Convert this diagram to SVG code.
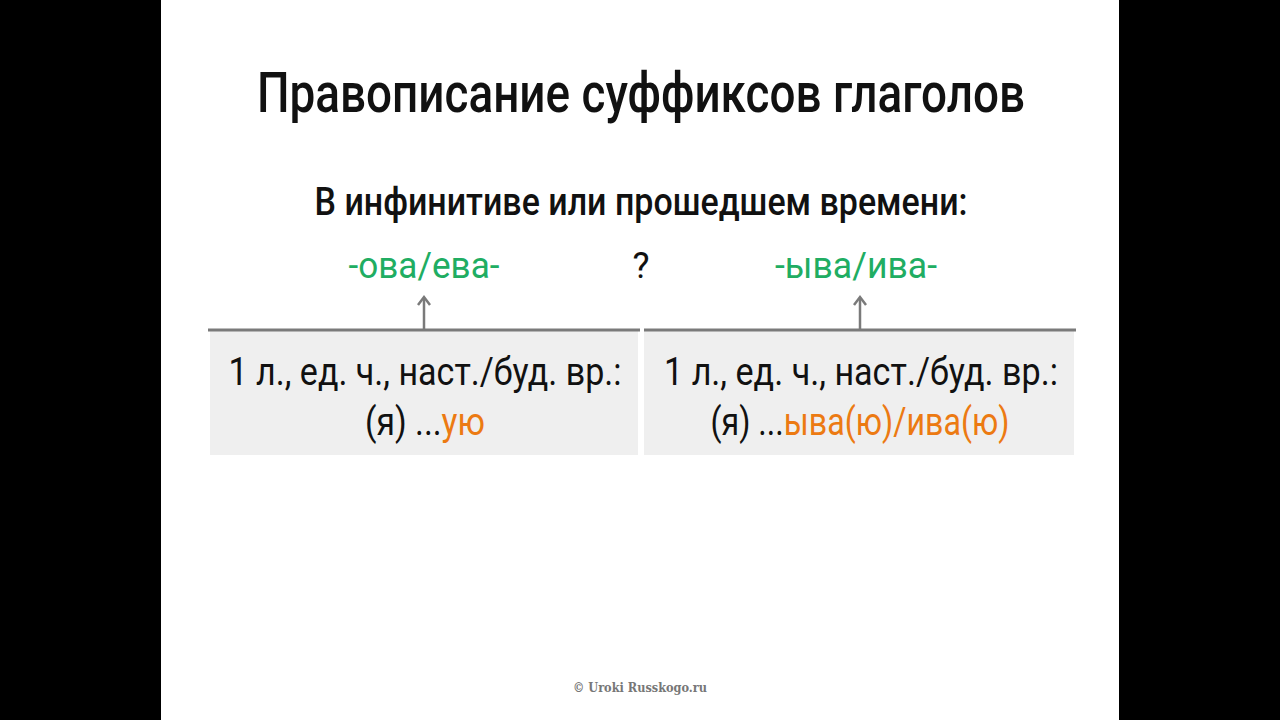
<svg xmlns="http://www.w3.org/2000/svg" width="1280" height="720" viewBox="0 0 1280 720">
<style>
text{font-family:"Roboto","Liberation Sans",sans-serif;fill:#111;font-weight:500;}
.t{font-size:55px;text-anchor:middle;}
.s{font-size:38px;text-anchor:middle;}
.q{font-size:36px;text-anchor:middle;font-weight:400;}
.g{font-size:37px;fill:#20ad62;text-anchor:middle;font-weight:400;}
.b{font-size:38px;text-anchor:middle;font-weight:400;}
.o{fill:#ec7a12;}
.box{fill:#efefef;}
.ln{stroke:#7a7a7a;stroke-width:3;fill:none;}
.ar{stroke:#7a7a7a;stroke-width:2.5;fill:none;}
.f{font-family:"DejaVu Serif","Liberation Serif",serif;font-size:13px;fill:#777;text-anchor:middle;font-weight:700;}
</style>
<rect x="0" y="0" width="1280" height="720" fill="#000"/>
<rect x="161" y="0" width="958" height="720" fill="#fff"/>
<g id="title"><text class="t" x="641" y="112" textLength="768" lengthAdjust="spacingAndGlyphs">Правописание суффиксов глаголов</text></g>
<g id="subtitle"><text class="s" x="641" y="215" textLength="653" lengthAdjust="spacingAndGlyphs">В инфинитиве или прошедшем времени:</text></g>
<g id="ova"><text class="g" x="424" y="278" textLength="151" lengthAdjust="spacingAndGlyphs">-ова/ева-</text></g>
<g id="q"><text class="q" x="641" y="278">?</text></g>
<g id="yva"><text class="g" x="856" y="278" textLength="162" lengthAdjust="spacingAndGlyphs">-ыва/ива-</text></g>
<g id="box1">
<rect class="box" x="210" y="331" width="428" height="124"/>
<text class="b" x="425" y="385" textLength="393" lengthAdjust="spacingAndGlyphs">1 л., ед. ч., наст./буд. вр.:</text>
<text class="b" x="425" y="435" textLength="120" lengthAdjust="spacingAndGlyphs">(я) ...<tspan class="o">ую</tspan></text>
</g>
<g id="box2">
<rect class="box" x="644" y="331" width="430" height="124"/>
<text class="b" x="861" y="385" textLength="394" lengthAdjust="spacingAndGlyphs">1 л., ед. ч., наст./буд. вр.:</text>
<text class="b" x="860" y="435" textLength="299" lengthAdjust="spacingAndGlyphs">(я) ...<tspan class="o">ыва(ю)/ива(ю)</tspan></text>
</g>
<g id="connectors">
<line class="ln" x1="208" y1="330" x2="640" y2="330"/>
<line class="ln" x1="644" y1="330" x2="1076" y2="330"/>
<line class="ar" x1="424" y1="330" x2="424" y2="298"/>
<polyline class="ar" points="418,305 424,297 430,305"/>
<line class="ar" x1="860" y1="330" x2="860" y2="298"/>
<polyline class="ar" points="854,305 860,297 866,305"/>
</g>
<g id="footer"><text class="f" x="640" y="692" textLength="134" lengthAdjust="spacingAndGlyphs">© Uroki Russkogo.ru</text></g>
</svg>
